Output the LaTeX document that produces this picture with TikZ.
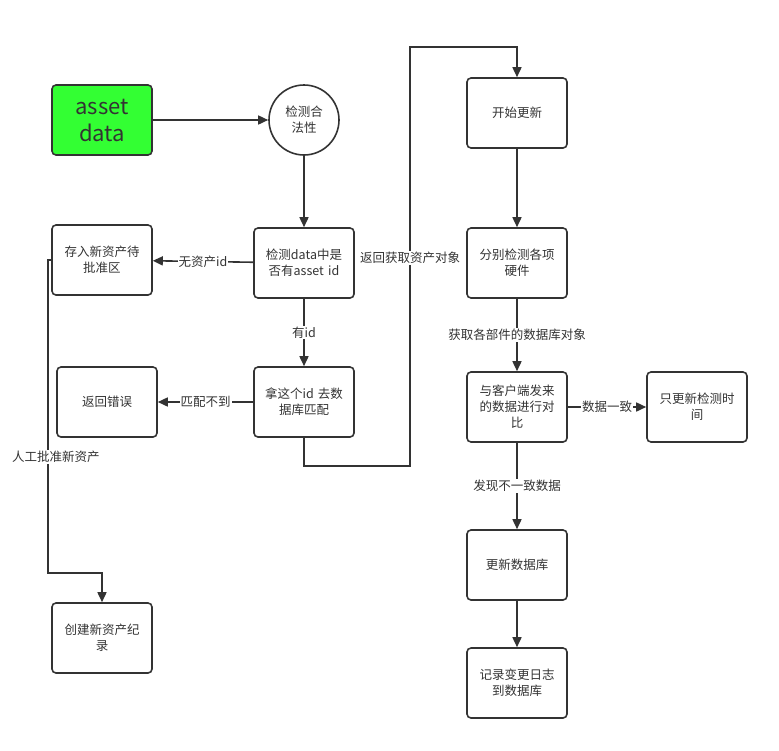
\documentclass[tikz,border=0pt]{standalone}
\usepackage{fontspec}
\setmainfont{Noto Sans CJK SC}
\usetikzlibrary{arrows.meta}
\definecolor{ink}{HTML}{333333}
\definecolor{assetgreen}{HTML}{33FF33}
\tikzset{
  box/.style={draw=ink, line width=1.6pt, rounded corners=4pt, minimum width=100pt, minimum height=70pt, align=center, text=ink, font=\fontsize{12.5}{16}\selectfont, inner sep=2pt, text width=94pt},
  conn/.style={draw=ink, line width=1.6pt, -{Triangle[length=10pt,width=9pt]}},
  plain/.style={draw=ink, line width=1.6pt},
  lbl/.style={fill=white, text=ink, font=\fontsize{12.5}{15}\selectfont, inner sep=1pt}
}
\begin{document}
\begin{tikzpicture}[x=1pt,y=-1pt]
\useasboundingbox (0,0) rectangle (779,750);
\node[box, fill=assetgreen, font=\fontsize{22}{27}\selectfont] (asset) at (102,120) {asset\\data};
\node[draw=ink, line width=1.6pt, circle, minimum size=70pt, inner sep=0pt, align=center, text=ink, font=\fontsize{12.5}{16}\selectfont] (check) at (304,120) {检测合\\法性};
\node[box] (start) at (517,113) {开始更新};
\node[box] (store) at (102,260) {存入新资产待\\批准区};
\node[box] (hasid) at (304,263) {检测data中是\\否有asset id};
\node[box] (hw) at (517,263) {分别检测各项\\硬件};
\node[box] (err) at (107,402) {返回错误};
\node[box] (match) at (304,402) {拿这个id 去数\\据库匹配};
\node[box] (cmp) at (517,407) {与客户端发来\\的数据进行对\\比};
\node[box] (onlyt) at (697,407) {只更新检测时\\间};
\node[box] (upd) at (517,565) {更新数据库};
\node[box] (create) at (102,638) {创建新资产纪\\录};
\node[box] (log) at (517,683) {记录变更日志\\到数据库};

\coordinate (m1) at (304,466);
\coordinate (m2) at (410,466);
\coordinate (m3) at (410,47);
\coordinate (m4) at (517,47);
\coordinate (s1) at (48,260);
\coordinate (s2) at (48,573);
\coordinate (s3) at (102,573);

\draw[conn] (asset) -- (check);
\draw[conn] (check) -- (hasid);
\draw[conn] (hasid) -- node[lbl]{无资产id} (store);
\draw[conn] (hasid) -- node[lbl]{有id} (match);
\draw[conn] (match) -- node[lbl]{匹配不到} (err);
\draw[conn] (match.south) -- (m1) -- (m2) -- (m3) -- (m4) -- (start.north);
\node[lbl] (lret) at (410,258) {返回获取资产对象};
\draw[conn] (start) -- (hw);
\draw[conn] (hw) -- node[lbl]{获取各部件的数据库对象} (cmp);
\draw[conn] (cmp) -- node[lbl]{数据一致} (onlyt);
\draw[conn] (cmp) -- node[lbl]{发现不一致数据} (upd);
\draw[conn] (upd) -- (log);
\draw[conn] (store.west) -- (s1) -- (s2) -- (s3) -- (create.north);
\node[lbl] (lman) at (56,457) {人工批准新资产};
\end{tikzpicture}
\end{document}
